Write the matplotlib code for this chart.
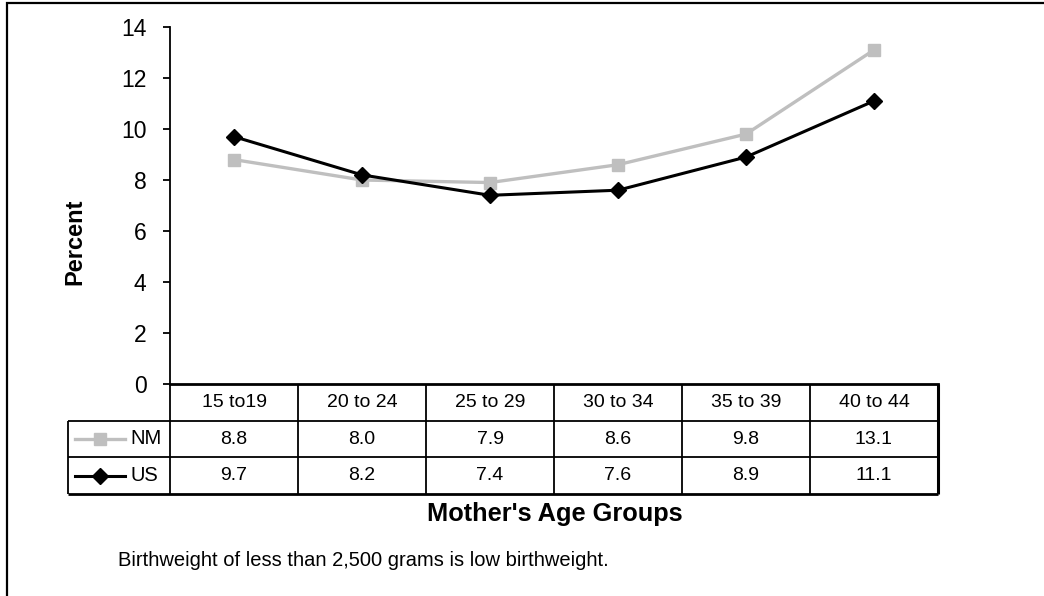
import matplotlib
matplotlib.use("Agg")
import matplotlib.pyplot as plt
from matplotlib.patches import Rectangle

plt.rcParams['font.family'] = ['Liberation Sans', 'DejaVu Sans']

# data
age_groups = ['15 to19', '20 to 24', '25 to 29', '30 to 34', '35 to 39', '40 to 44']
nm_pct = [8.8, 8.0, 7.9, 8.6, 9.8, 13.1]
us_pct = [9.7, 8.2, 7.4, 7.6, 8.9, 11.1]
series_names = ['NM', 'US']

GRAY = '#BFBFBF'
x = list(range(len(age_groups)))

fig = plt.figure(figsize=(10.44, 5.96), dpi=100)

# outer frame (only left and top edges show in the original)
fig.patches.append(Rectangle((7 / 1044, -0.1), 2.0, 1.1 - 3 / 596, transform=fig.transFigure,
                             fill=False, edgecolor='black', linewidth=1.6))

# main line chart
ax = fig.add_axes([170 / 1044, 1 - 384 / 596, 768 / 1044, 357 / 596])
ax.plot(x, nm_pct, color=GRAY, lw=2.4, marker='s', ms=9, mfc=GRAY, mec=GRAY, zorder=3)
ax.plot(x, us_pct, color='black', lw=2.2, marker='D', ms=8, zorder=4)
ax.set_xlim(-0.5, len(age_groups) - 0.5)
ax.set_ylim(0, 14)
ax.set_yticks(range(0, 15, 2))
ax.set_xticks([])
for s in ['top', 'right']:
    ax.spines[s].set_visible(False)
ax.spines['left'].set_linewidth(1.3)
ax.spines['bottom'].set_linewidth(2)
ax.tick_params(axis='y', direction='out', length=5, width=1.3, pad=12, labelsize=16.5)

fig.text(75 / 1044, 1 - 242 / 596, 'Percent', rotation=90, ha='center', va='center',
         fontsize=17, fontweight='bold')

# data table below the chart
legw = 102 / 128
tab = fig.add_axes([68 / 1044, 1 - 494 / 596, 870 / 1044, 110 / 596])
tab.set_xlim(-0.5 - legw, len(age_groups) - 0.5)
tab.set_ylim(0, 3)
tab.axis('off')

x_left = -0.5 - legw
x_right = len(age_groups) - 0.5
lc = dict(color='black', clip_on=False)
tab.hlines([2, 1], x_left, x_right, lw=1.3, **lc)
tab.hlines(0, x_left, x_right, lw=2, **lc)
tab.vlines([i + 0.5 for i in x[:-1]], 0, 3, lw=1.3, **lc)
tab.vlines(-0.5, 0, 3, lw=1.3, **lc)
tab.vlines(x_right, 0, 3, lw=2.2, **lc)
tab.vlines(x_left, 0, 2, lw=1.3, **lc)

for i, lab in enumerate(age_groups):
    tab.text(i, 2.5, lab, ha='center', va='center', fontsize=14)
for i, (a, b) in enumerate(zip(nm_pct, us_pct)):
    tab.text(i, 1.5, f'{a:.1f}', ha='center', va='center', fontsize=14)
    tab.text(i, 0.5, f'{b:.1f}', ha='center', va='center', fontsize=14)

# legend keys inside the row-label cells
px = 1 / 128
kx0, kx1, kxm = x_left + 7 * px, x_left + 57 * px, x_left + 32 * px
tab.plot([kx0, kx1], [1.5, 1.5], color=GRAY, lw=2.4, clip_on=False)
tab.plot([kxm], [1.5], marker='s', ms=9, color=GRAY, clip_on=False)
tab.plot([kx0, kx1], [0.5, 0.5], color='black', lw=2.2, clip_on=False)
tab.plot([kxm], [0.5], marker='D', ms=8, color='black', clip_on=False)
tab.text(x_left + 62 * px, 1.5, series_names[0], ha='left', va='center', fontsize=14.5)
tab.text(x_left + 62 * px, 0.5, series_names[1], ha='left', va='center', fontsize=14.5)

fig.text(555 / 1044, 1 - 514 / 596, "Mother's Age Groups", ha='center', va='center',
         fontsize=18.3, fontweight='bold')
fig.text(118 / 1044, 1 - 561 / 596, 'Birthweight of less than 2,500 grams is low birthweight.',
         ha='left', va='center', fontsize=14.5)

fig.savefig('out.png', dpi=100)
